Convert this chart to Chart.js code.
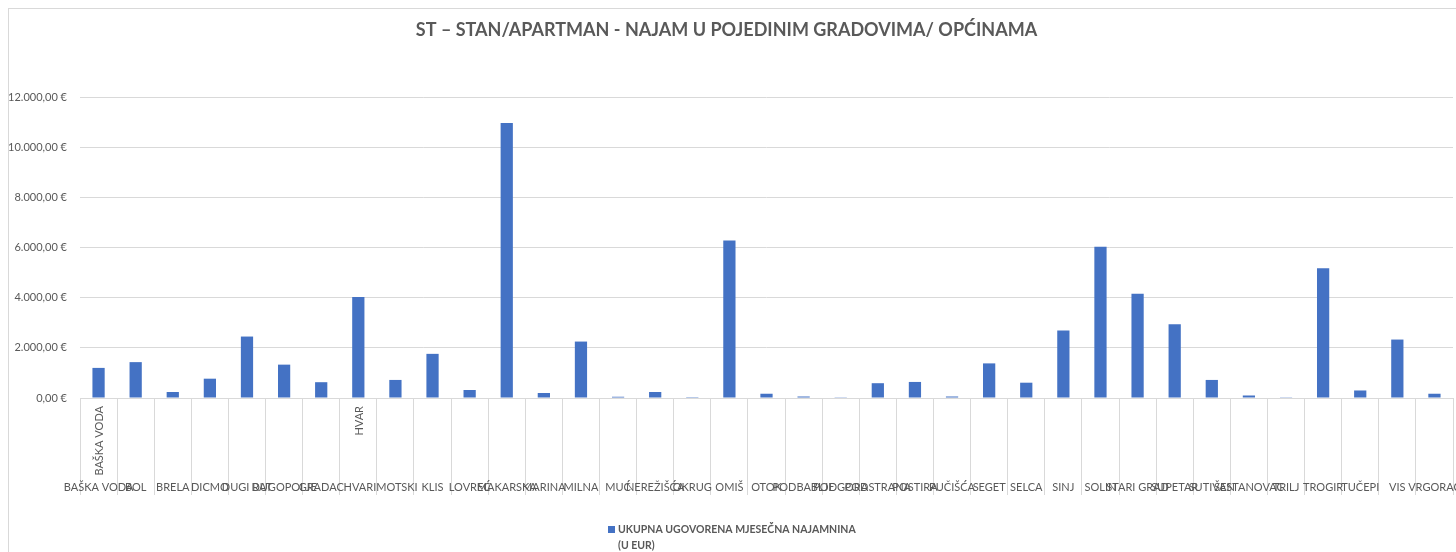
<!DOCTYPE html>
<html>
<head>
<meta charset="utf-8">
<script src="https://cdn.jsdelivr.net/npm/chart.js@4.4.1/dist/chart.umd.min.js"></script>
<style>
  html, body { margin: 0; padding: 0; background: #fff; overflow: hidden; }
  #wrap { position: relative; width: 1456px; height: 552px; }
  #frame { position: absolute; left: 8px; top: 8px; width: 1447px; height: 600px; border: 1px solid #d9d9d9; pointer-events: none; }
</style>
</head>
<body>
<div id="wrap">
  <canvas id="chart" width="1456" height="552"></canvas>
  <div id="frame"></div>
</div>
<script>
// categories (gradovi / općine)
const cities = [
  "BAŠKA VODA", "BOL", "BRELA", "DICMO", "DUGI RAT", "DUGOPOLJE", "GRADAC", "HVAR",
  "IMOTSKI", "KLIS", "LOVREĆ", "MAKARSKA", "MARINA", "MILNA", "MUĆ", "NEREŽIŠĆA",
  "OKRUG", "OMIŠ", "OTOK", "PODBABLJE", "PODGORA", "PODSTRANA", "POSTIRA", "PUČIŠĆA",
  "SEGET", "SELCA", "SINJ", "SOLIN", "STARI GRAD", "SUPETAR", "SUTIVAN", "ŠESTANOVAC",
  "TRILJ", "TROGIR", "TUČEPI", "VIS", "VRGORAC"
];

// monthly rent total, EUR
const rentTotals = [
  1200, 1430, 240, 770, 2450, 1330, 630, 4030,
  720, 1760, 320, 10960, 200, 2250, 50, 240,
  35, 6280, 170, 60, 10, 590, 640, 60,
  1380, 610, 2690, 6030, 4160, 2940, 720, 100,
  30, 5170, 300, 2330, 170
];

// labels Excel also printed rotated under some bars
const rotatedLabels = ["BAŠKA VODA", "HVAR"];

const seriesName = ["UKUPNA UGOVORENA MJESEČNA NAJAMNINA", "(U EUR)"];
const titleText = "ST – STAN/APARTMAN - NAJAM U POJEDINIM GRADOVIMA/ OPĆINAMA";

const FONT = "Lato, 'Open Sans', sans-serif";
const GREY = "#595959";
const BLUE = "#4472C4";

const fmtEur = v => v.toLocaleString("de-DE", { minimumFractionDigits: 2, maximumFractionDigits: 2 }) + " €";

// extra text Excel drew: rotated labels + two-line legend
const extrasPlugin = {
  id: "extras",
  afterDraw(chart) {
    const ctx = chart.ctx;
    const x = chart.scales.x;
    ctx.save();
    ctx.fillStyle = GREY;
    ctx.font = "11px " + FONT;
    rotatedLabels.forEach(name => {
      const i = cities.indexOf(name);
      const cx = x.getPixelForValue(i);
      ctx.save();
      ctx.translate(cx + 1, 406);
      ctx.rotate(-Math.PI / 2);
      ctx.textAlign = "right";
      ctx.textBaseline = "middle";
      ctx.fillText(name, 0, 0);
      ctx.restore();
    });

    // legend
    ctx.fillStyle = BLUE;
    ctx.fillRect(608, 526, 7, 7);
    ctx.fillStyle = GREY;
    ctx.font = "bold 10.5px " + FONT;
    ctx.textAlign = "left";
    ctx.textBaseline = "middle";
    ctx.fillText(seriesName[0], 618, 530);
    ctx.fillText(seriesName[1], 618, 546);
    ctx.restore();
  }
};

new Chart(document.getElementById("chart"), {
  type: "bar",
  data: {
    labels: cities,
    datasets: [{
      label: seriesName.join(" "),
      data: rentTotals,
      backgroundColor: BLUE,
      borderWidth: 0,
      barPercentage: 0.33,
      categoryPercentage: 1.0
    }]
  },
  options: {
    responsive: false,
    animation: false,
    layout: { padding: { left: 0, right: 3, top: 0, bottom: 40 } },
    plugins: {
      legend: { display: false },
      tooltip: { enabled: false },
      title: {
        display: true,
        text: titleText,
        color: GREY,
        font: { family: FONT, size: 18, weight: "bold" },
        padding: { top: 19, bottom: 56.4 }
      }
    },
    scales: {
      x: {
        afterFit: s => { s.height = 114; },
        grid: {
          offset: true,
          drawOnChartArea: false,
          tickLength: 97,
          color: "#d9d9d9"
        },
        border: { color: "#d9d9d9" },
        ticks: {
          autoSkip: false,
          maxRotation: 0,
          minRotation: 0,
          padding: -14,
          color: GREY,
          font: { family: FONT, size: 11 }
        }
      },
      y: {
        min: 0,
        max: 12000,
        afterFit: s => { s.width = 80; },
        grid: { color: "#d9d9d9", drawTicks: false },
        border: { display: false },
        ticks: {
          stepSize: 2000,
          padding: 13,
          color: GREY,
          font: { family: FONT, size: 11 },
          callback: v => fmtEur(v)
        }
      }
    }
  },
  plugins: [extrasPlugin]
});
</script>
</body>
</html>
